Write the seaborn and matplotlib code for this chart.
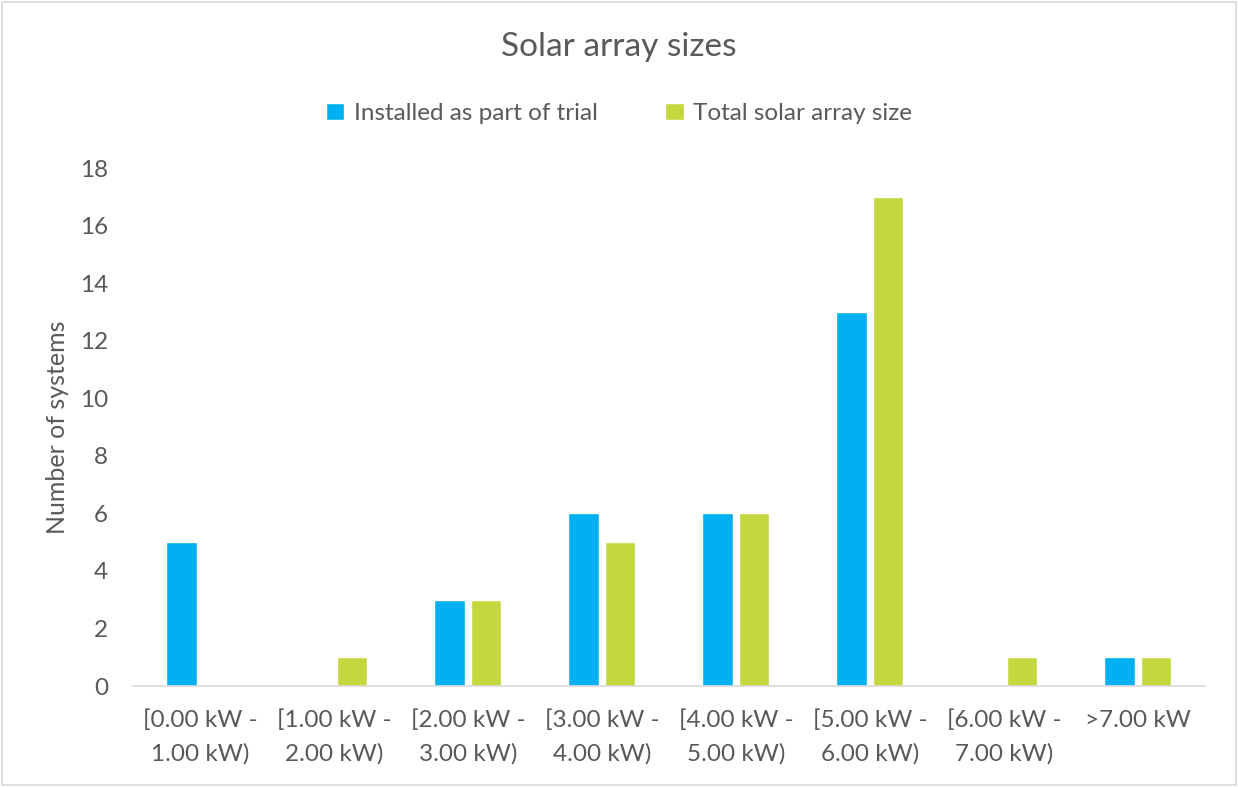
import pandas as pd
import matplotlib
matplotlib.use("Agg")
import matplotlib.pyplot as plt
import seaborn as sns
from matplotlib.patches import Rectangle

# chart data
categories = ["[0.00 kW -\n1.00 kW)", "[1.00 kW -\n2.00 kW)", "[2.00 kW -\n3.00 kW)",
              "[3.00 kW -\n4.00 kW)", "[4.00 kW -\n5.00 kW)", "[5.00 kW -\n6.00 kW)",
              "[6.00 kW -\n7.00 kW)", ">7.00 kW"]
installed = [5, 0, 3, 6, 6, 13, 0, 1]
total = [0, 1, 3, 5, 6, 17, 1, 1]
series_names = ["Installed as part of trial", "Total solar array size"]
colors = ["#00B0F0", "#C4D83E"]

df = pd.DataFrame({
    "category": categories * 2,
    "count": installed + total,
    "series": [series_names[0]] * len(categories) + [series_names[1]] * len(categories),
})

sns.set_style("white")
plt.rcParams["font.family"] = ["Lato", "DejaVu Sans"]
text_col = "#595959"

fig = plt.figure(figsize=(12.38, 7.87), dpi=100)
ax = fig.add_axes([0.1074, 0.1283, 0.8659, 0.6582])

sns.barplot(data=df, x="category", y="count", hue="series", order=categories,
            hue_order=series_names, palette=colors, width=0.55, gap=0.18,
            saturation=1, ax=ax)

ax.set_ylim(0, 18)
ax.set_yticks(range(0, 19, 2))
ax.set_xlim(-0.5, len(categories) - 0.5)
ax.set_xlabel("")
ax.set_ylabel("Number of systems", fontsize=18, color=text_col, labelpad=8)
ax.tick_params(axis="both", length=0, labelsize=17.5, colors=text_col)
ax.tick_params(axis="y", pad=18)
ax.tick_params(axis="x", pad=17)
for lbl in ax.get_xticklabels():
    lbl.set_linespacing(1.65)
for side in ["top", "right", "left"]:
    ax.spines[side].set_visible(False)
ax.spines["bottom"].set_color("#D9D9D9")
ax.spines["bottom"].set_linewidth(1.2)

ax.legend(loc="center", bbox_to_anchor=(0.5, 0.856), bbox_transform=fig.transFigure,
          ncol=2, frameon=False, fontsize=17.5, labelcolor=text_col,
          handlelength=0.75, handleheight=0.75, handletextpad=0.4, columnspacing=2.8)

fig.text(0.5, 0.94, "Solar array sizes", ha="center", va="center",
         fontsize=24, color=text_col)

fig.patches.append(Rectangle((0.002, 0.002), 0.996, 0.996, transform=fig.transFigure,
                             fill=False, edgecolor="#D9D9D9", linewidth=1.2))

fig.savefig("out.png", dpi=100, facecolor="white")
